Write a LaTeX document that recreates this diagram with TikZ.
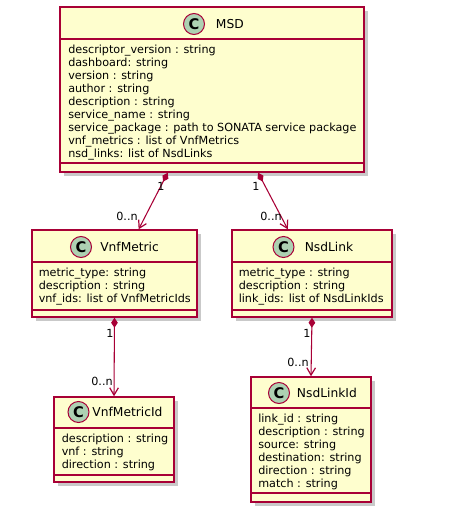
\documentclass[tikz,border=0pt]{standalone}
\usepackage{fontspec}
\setmainfont{DejaVu Sans}
\usetikzlibrary{arrows.meta, positioning, calc, fit, shadows}
\definecolor{umlfill}{HTML}{FEFECE}
\definecolor{umlred}{HTML}{A80036}
\definecolor{umlgreen}{HTML}{ADD1B2}

\begin{document}
\begin{tikzpicture}[
  x=0.75pt, y=-0.75pt,
  classbox/.style={draw=umlred, fill=umlfill, line width=1.1pt, inner sep=0pt,
                   drop shadow={shadow xshift=3pt, shadow yshift=-3pt,
                                opacity=0.3, fill=black!70}},
  sepline/.style={draw=umlred, line width=1.1pt},
  badge/.style={circle, draw=umlred, fill=umlgreen, line width=0.75pt,
                minimum size=15.75pt, inner sep=0pt,
                font=\fontsize{11}{11}\selectfont\bfseries},
  classname/.style={inner sep=0pt, font=\fontsize{9.2}{10}\selectfont},
  attrs/.style={anchor=north west, align=left, inner sep=0pt,
                font=\fontsize{8.4}{9.75}\selectfont},
  mult/.style={inner sep=0pt, font=\fontsize{8.4}{9.75}\selectfont},
  compose/.style={draw=umlred, line width=0.8pt,
                  {Diamond[length=7.5pt, width=5pt]}-{Straight Barb[length=5.5pt, width=6.5pt, line width=0.9pt]}}
]
  \useasboundingbox (0,0) rectangle (454,510);

  % MSD
  \node[classbox, fit={(60,7) (364,172)}] (msd) {};
  \draw[sepline] (60,39) -- (364,39);
  \draw[sepline] (60,163) -- (364,163);
  \node[badge] (msdC) at (194,24) {C};
  \node[classname, right=8pt of msdC] (msdT) {MSD};
  \node[attrs] (msdA) at (68,44.5) {descriptor\_version : string\\dashboard: string\\
    version : string\\author : string\\description : string\\service\_name : string\\
    service\_package : path to SONATA service package\\vnf\_metrics : list of VnfMetrics\\
    nsd\_links: list of NsdLinks};

  % VnfMetric
  \node[classbox, fit={(32,230) (197,317)}] (vm) {};
  \draw[sepline] (32,262) -- (197,262);
  \draw[sepline] (32,310) -- (197,310);
  \node[badge] (vmC) at (81,247) {C};
  \node[classname, right=6pt of vmC] (vmT) {VnfMetric};
  \node[attrs] (vmA) at (38.5,267.5) {metric\_type: string\\description : string\\
    vnf\_ids: list of VnfMetricIds};

  % NsdLink
  \node[classbox, fit={(232,230) (392,317)}] (nl) {};
  \draw[sepline] (232,262) -- (392,262);
  \draw[sepline] (232,310) -- (392,310);
  \node[badge] (nlC) at (283.5,247) {C};
  \node[classname, right=7.5pt of nlC] (nlT) {NsdLink};
  \node[attrs] (nlA) at (238.5,267.5) {metric\_type : string\\description : string\\
    link\_ids: list of NsdLinkIds};

  % VnfMetricId
  \node[classbox, fit={(54,397) (174,482)}] (vmi) {};
  \draw[sepline] (54,428) -- (174,428);
  \draw[sepline] (54,475) -- (174,475);
  \node[badge] (vmiC) at (78.5,412) {C};
  \node[classname, right=2pt of vmiC] (vmiT) {VnfMetricId};
  \node[attrs] (vmiA) at (61.5,433.5) {description : string\\vnf : string\\
    direction : string};

  % NsdLinkId
  \node[classbox, fit={(251,377) (371,502)}] (nli) {};
  \draw[sepline] (251,408) -- (371,408);
  \draw[sepline] (251,493) -- (371,493);
  \node[badge] (nliC) at (279,393) {C};
  \node[classname, right=5pt of nliC] (nliT) {NsdLinkId};
  \node[attrs] (nliA) at (258,413.5) {link\_id : string\\description : string\\
    source: string\\destination: string\\direction : string\\match : string};

  % Compositions
  \draw[compose] ($(msd.south west)!0.355!(msd.south east)$)
    -- ($(vm.north west)!0.645!(vm.north east)$);
  \draw[compose] ($(msd.south west)!0.651!(msd.south east)$)
    -- ($(nl.north west)!0.35!(nl.north east)$);
  \draw[compose] (vm.south) -- (vmi.north);
  \draw[compose] (nl.south) -- (nli.north);

  % Multiplicities
  \node[mult] (m1) at (161,186) {1};
  \node[mult] (m2) at (127,216) {0..n};
  \node[mult] (m3) at (256,186) {1};
  \node[mult] (m4) at (271,216) {0..n};
  \node[mult] (m5) at (110,333) {1};
  \node[mult] (m6) at (102,381) {0..n};
  \node[mult] (m7) at (307,333) {1};
  \node[mult] (m8) at (298,362) {0..n};
\end{tikzpicture}
\end{document}
